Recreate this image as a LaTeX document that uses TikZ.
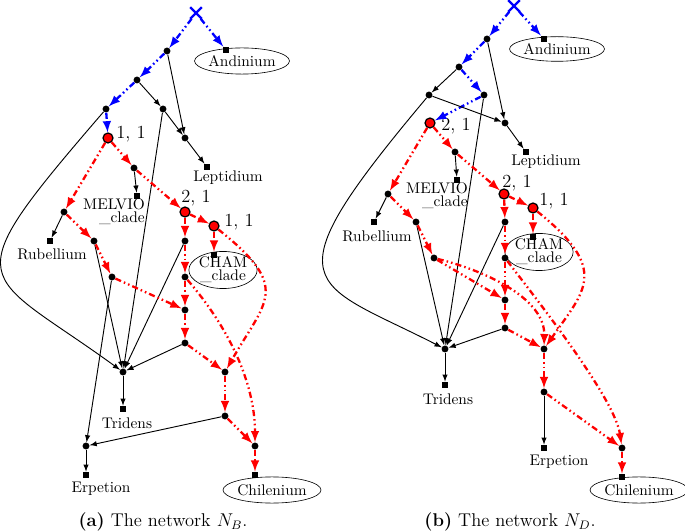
\documentclass[tikz,border=0pt]{standalone}
\usetikzlibrary{shapes.geometric,shapes.misc}

\begin{document}
\begin{tikzpicture}[x=0.65pt, y=-0.65pt,
    dot/.style={circle, fill=black, inner sep=0pt, minimum size=4.5pt},
    hot/.style={circle, fill=red, draw=black, thick, inner sep=0pt, minimum size=6.5pt},
    leaf/.style={rectangle, fill=black, inner sep=0pt, minimum size=4pt},
    root/.style={cross out, draw=blue, line width=1.5pt, inner sep=0pt, minimum size=6pt},
    ring/.style={ellipse, draw=black, thin, inner sep=0pt},
    tag/.style={font=\large},
    twoline/.style={font=\fontsize{10}{8.5}\selectfont},
    tree/.style={-latex, semithick},
    redline/.style={-latex, red, line width=1.5pt, dash pattern=on 4pt off 2pt on 1pt off 2pt on 1pt off 2pt},
    blueline/.style={redline, blue}
]
    \useasboundingbox (0,0) rectangle (685,532);

    \node[root] (a-x) at (196,13) {};
    \node[leaf] (a-and) at (226,50) {};
    \node[ring, minimum width=60pt, minimum height=17pt] (a-andtxt) at (242,61) {Andinium};
    \node[dot] (a-1) at (167,51) {};
    \node[dot] (a-2) at (137,80) {};
    \node[dot] (a-3) at (106,109) {};
    \node[dot] (a-4) at (163,109) {};
    \node[dot] (a-5) at (185,138) {};
    \node[leaf] (a-lep) at (207,167) {};
    \node (a-leptxt) at (228,178) {Leptidium};
    \node[hot] (a-h1) at (108,138) {};
    \node[tag] (a-h1txt) at (131,134) {1, 1};
    \node[dot] (a-6) at (134,168) {};
    \node[leaf] (a-mel) at (137,196) {};
    \node[twoline, align=right] (a-meltxt) at (114,212) {MELVIO\\\_clade};
    \node[hot] (a-h2) at (185,212) {};
    \node[tag] (a-h2txt) at (196,198) {2, 1};
    \node[hot] (a-h3) at (214,226) {};
    \node[tag] (a-h3txt) at (239,222) {1, 1};
    \node[dot] (a-7) at (64,212) {};
    \node[leaf] (a-rub) at (50,241) {};
    \node (a-rubtxt) at (52,254) {Rubellium};
    \node[dot] (a-8) at (94,241) {};
    \node[dot] (a-9) at (112,277) {};
    \node[dot] (a-10) at (185,241) {};
    \node[leaf] (a-cham) at (214,255) {};
    \node[ring, twoline, align=center, minimum width=44pt, minimum height=22pt] (a-chamtxt) at (223,270) {CHAM\\\_clade};
    \node[dot] (a-11) at (185,277) {};
    \node[dot] (a-12) at (185,310) {};
    \node[dot] (a-13) at (185,343) {};
    \node[dot] (a-t) at (123,372) {};
    \node[leaf] (a-tri) at (123,409) {};
    \node (a-tritxt) at (127,423) {Tridens};
    \node[dot] (a-14) at (225,372) {};
    \node[dot] (a-15) at (225,416) {};
    \node[dot] (a-16) at (86,446) {};
    \node[leaf] (a-erp) at (86,475) {};
    \node (a-erptxt) at (101,489) {Erpetion};
    \node[dot] (a-17) at (255,446) {};
    \node[leaf] (a-chi) at (255,475) {};
    \node[ring, minimum width=58pt, minimum height=17pt] (a-chitxt) at (272,490) {Chilenium};
    \node[font=\large] (a-cap) at (163,522) {\textbf{(a)} The network $N_B$.};

    \draw[blueline] (a-x) -- (a-and);
    \draw[blueline] (a-x) -- (a-1);
    \draw[blueline] (a-1) -- (a-2);
    \draw[blueline] (a-2) -- (a-3);
    \draw[blueline] (a-3) -- (a-h1);
    \draw[tree] (a-1) -- (a-5);
    \draw[tree] (a-2) -- (a-4);
    \draw[tree] (a-4) -- (a-5);
    \draw[tree] (a-5) -- (a-lep);
    \draw[tree] (a-4) -- (a-t);
    \draw[tree] (a-3) .. controls (-50,290) and (-20,268) .. (a-t);
    \draw[tree] (a-6) -- (a-mel);
    \draw[tree] (a-7) -- (a-rub);
    \draw[tree] (a-8) -- (a-t);
    \draw[tree] (a-9) -- (a-16);
    \draw[tree] (a-10) -- (a-t);
    \draw[tree] (a-13) -- (a-t);
    \draw[tree] (a-t) -- (a-tri);
    \draw[tree] (a-15) -- (a-16);
    \draw[tree] (a-16) -- (a-erp);
    \draw[redline] (a-h1) -- (a-7);
    \draw[redline] (a-h1) -- (a-6);
    \draw[redline] (a-6) -- (a-h2);
    \draw[redline] (a-7) -- (a-8);
    \draw[redline] (a-8) -- (a-9);
    \draw[redline] (a-9) -- (a-12);
    \draw[redline] (a-h2) -- (a-h3);
    \draw[redline] (a-h3) -- (a-cham);
    \draw[redline] (a-h2) -- (a-10);
    \draw[redline] (a-10) -- (a-11);
    \draw[redline] (a-11) -- (a-12);
    \draw[redline] (a-12) -- (a-13);
    \draw[redline] (a-13) -- (a-14);
    \draw[redline] (a-14) -- (a-15);
    \draw[redline] (a-15) -- (a-17);
    \draw[redline] (a-17) -- (a-chi);
    \draw[redline] (a-h3) .. controls (292,288) and (266,300) .. (a-14);
    \draw[redline] (a-11) .. controls (235,335) and (255,390) .. (a-17);

    \node[root] (b-x) at (514,6) {};
    \node[leaf] (b-and) at (544,39) {};
    \node[ring, minimum width=58pt, minimum height=16pt] (b-andtxt) at (557,49) {Andinium};
    \node[dot] (b-1) at (487,39) {};
    \node[dot] (b-2) at (459,67) {};
    \node[dot] (b-3) at (429,95) {};
    \node[dot] (b-4) at (484,95) {};
    \node[dot] (b-5) at (505,123) {};
    \node[leaf] (b-lep) at (526,152) {};
    \node (b-leptxt) at (546,162) {Leptidium};
    \node[hot] (b-h1) at (430,123) {};
    \node[tag] (b-h1txt) at (456,126) {2, 1};
    \node[dot] (b-6) at (455,152) {};
    \node[leaf] (b-mel) at (457,180) {};
    \node[twoline, align=right] (b-meltxt) at (437,196) {MELVIO\\\_clade};
    \node[hot] (b-h2) at (504,194) {};
    \node[tag] (b-h2txt) at (517,183) {2, 1};
    \node[hot] (b-h3) at (533,208) {};
    \node[tag] (b-h3txt) at (554,201) {1, 1};
    \node[dot] (b-7) at (388,194) {};
    \node[leaf] (b-rub) at (374,222) {};
    \node (b-rubtxt) at (377,236) {Rubellium};
    \node[dot] (b-8) at (416,222) {};
    \node[dot] (b-9) at (434,258) {};
    \node[dot] (b-10) at (505,222) {};
    \node[leaf] (b-cham) at (533,237) {};
    \node[ring, twoline, align=center, minimum width=42pt, minimum height=21pt] (b-chamtxt) at (539,252) {CHAM\\\_clade};
    \node[dot] (b-11) at (505,258) {};
    \node[dot] (b-12) at (505,300) {};
    \node[dot] (b-13) at (505,328) {};
    \node[dot] (b-t) at (445,349) {};
    \node[leaf] (b-tri) at (445,385) {};
    \node (b-tritxt) at (448,399) {Tridens};
    \node[dot] (b-14) at (544,349) {};
    \node[dot] (b-15) at (544,392) {};
    \node[leaf] (b-erp) at (544,448) {};
    \node (b-erptxt) at (559,462) {Erpetion};
    \node[dot] (b-17) at (622,448) {};
    \node[leaf] (b-chi) at (622,477) {};
    \node[ring, minimum width=57pt, minimum height=17pt] (b-chitxt) at (639,490) {Chilenium};
    \node[font=\large] (b-cap) at (510,522) {\textbf{(b)} The network $N_D$.};

    \draw[blueline] (b-x) -- (b-and);
    \draw[blueline] (b-x) -- (b-1);
    \draw[blueline] (b-1) -- (b-2);
    \draw[blueline] (b-2) -- (b-4);
    \draw[blueline] (b-4) -- (b-h1);
    \draw[tree] (b-1) -- (b-5);
    \draw[tree] (b-2) -- (b-3);
    \draw[tree] (b-3) -- (b-5);
    \draw[tree] (b-5) -- (b-lep);
    \draw[tree] (b-4) -- (b-t);
    \draw[tree] (b-3) .. controls (265,290) and (310,280) .. (b-t);
    \draw[tree] (b-6) -- (b-mel);
    \draw[tree] (b-7) -- (b-rub);
    \draw[tree] (b-8) -- (b-t);
    \draw[tree] (b-10) -- (b-t);
    \draw[tree] (b-13) -- (b-t);
    \draw[tree] (b-t) -- (b-tri);
    \draw[tree] (b-15) -- (b-erp);
    \draw[redline] (b-h1) -- (b-7);
    \draw[redline] (b-h1) -- (b-6);
    \draw[redline] (b-6) -- (b-h2);
    \draw[redline] (b-7) -- (b-8);
    \draw[redline] (b-8) -- (b-9);
    \draw[redline] (b-9) -- (b-12);
    \draw[redline] (b-9) .. controls (490,272) and (545,300) .. (b-14);
    \draw[redline] (b-h2) -- (b-h3);
    \draw[redline] (b-h3) -- (b-cham);
    \draw[redline] (b-h2) -- (b-10);
    \draw[redline] (b-10) -- (b-11);
    \draw[redline] (b-11) -- (b-12);
    \draw[redline] (b-12) -- (b-13);
    \draw[redline] (b-13) -- (b-14);
    \draw[redline] (b-14) -- (b-15);
    \draw[redline] (b-15) -- (b-17);
    \draw[redline] (b-17) -- (b-chi);
    \draw[redline] (b-h3) .. controls (610,270) and (585,290) .. (b-14);
    \draw[redline] (b-11) .. controls (545,310) and (615,400) .. (b-17);
\end{tikzpicture}
\end{document}
